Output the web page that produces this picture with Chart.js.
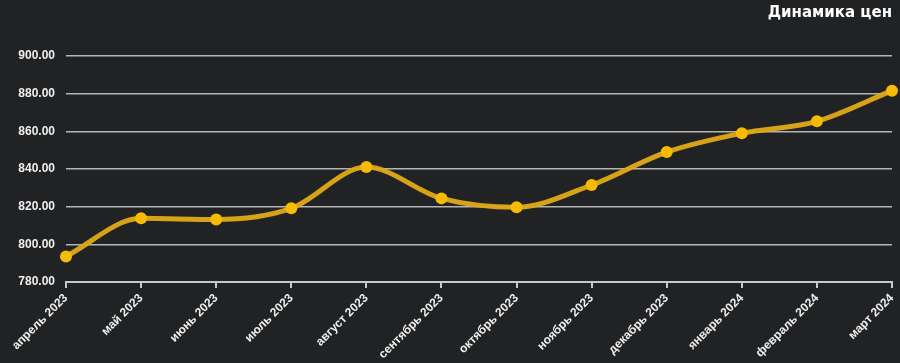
<!DOCTYPE html>
<html>
<head>
<meta charset="utf-8">
<script src="https://cdn.jsdelivr.net/npm/chart.js@4"></script>
<style>
  html, body { margin: 0; padding: 0; background: #212224; }
  #wrap { width: 900px; height: 363px; position: relative; }
</style>
</head>
<body>
<div id="wrap"><canvas id="priceChart"></canvas></div>
<script>
// --- Daten ---
const months = ['апрель 2023', 'май 2023', 'июнь 2023', 'июль 2023', 'август 2023', 'сентябрь 2023',
    'октябрь 2023', 'ноябрь 2023', 'декабрь 2023', 'январь 2024', 'февраль 2024', 'март 2024'];
const prices = [793.6, 813.8, 813.2, 819.1, 841.0, 824.4, 819.7, 831.5, 849.0, 859.0, 865.3, 881.6];
const yMin = 780;
const yMax = 900;
const yStep = 20;
const chartTitle = 'Динамика цен';

// --- Titel oben rechts ---
const titlePlugin = {
    id: 'cornerTitle',
    afterDraw(chart) {
        const ctx = chart.ctx;
        ctx.save();
        ctx.font = 'bold 15px "DejaVu Sans", sans-serif';
        ctx.fillStyle = '#ffffff';
        ctx.textAlign = 'right';
        ctx.textBaseline = 'middle';
        ctx.fillText(chartTitle, 892, 13);
        ctx.restore();
    }
};

const font = { family: '"Liberation Sans", Arial, sans-serif', size: 12, weight: 'bold' };

new Chart(document.getElementById('priceChart'), {
    type: 'line',
    data: {
        labels: months,
        datasets: [{
            data: prices,
            borderColor: 'rgba(224, 170, 24, 0.95)',
            borderWidth: 5,
            cubicInterpolationMode: 'monotone',
            pointRadius: 6,
            pointHoverRadius: 6,
            pointBackgroundColor: '#f6bb02',
            pointBorderWidth: 0,
            clip: false
        }]
    },
    options: {
        responsive: true,
        maintainAspectRatio: false,
        animation: false,
        layout: { padding: { top: 56, right: 8, left: 0, bottom: 0 } },
        plugins: {
            legend: { display: false },
            tooltip: { enabled: false }
        },
        scales: {
            x: {
                offset: false,
                border: { display: true, color: '#c8c8c8', width: 2 },
                grid: { drawOnChartArea: false, color: '#c8c8c8', lineWidth: 2, tickLength: 6 },
                ticks: { color: '#eeeeee', font: font, maxRotation: 45, minRotation: 45, autoSkip: false, padding: 3 },
                afterFit(axis) {
                    axis.height = 81;
                    axis.paddingLeft = 0;
                    axis.paddingRight = 0;
                }
            },
            y: {
                min: yMin,
                max: yMax,
                border: { display: false },
                grid: { color: '#b4b4b4', lineWidth: 1.5, drawTicks: false },
                ticks: {
                    stepSize: yStep,
                    color: '#eeeeee',
                    font: font,
                    padding: 11,
                    callback: v => v.toFixed(2)
                },
                afterFit(axis) { axis.width = 66; }
            }
        }
    },
    plugins: [titlePlugin]
});
</script>
</body>
</html>
